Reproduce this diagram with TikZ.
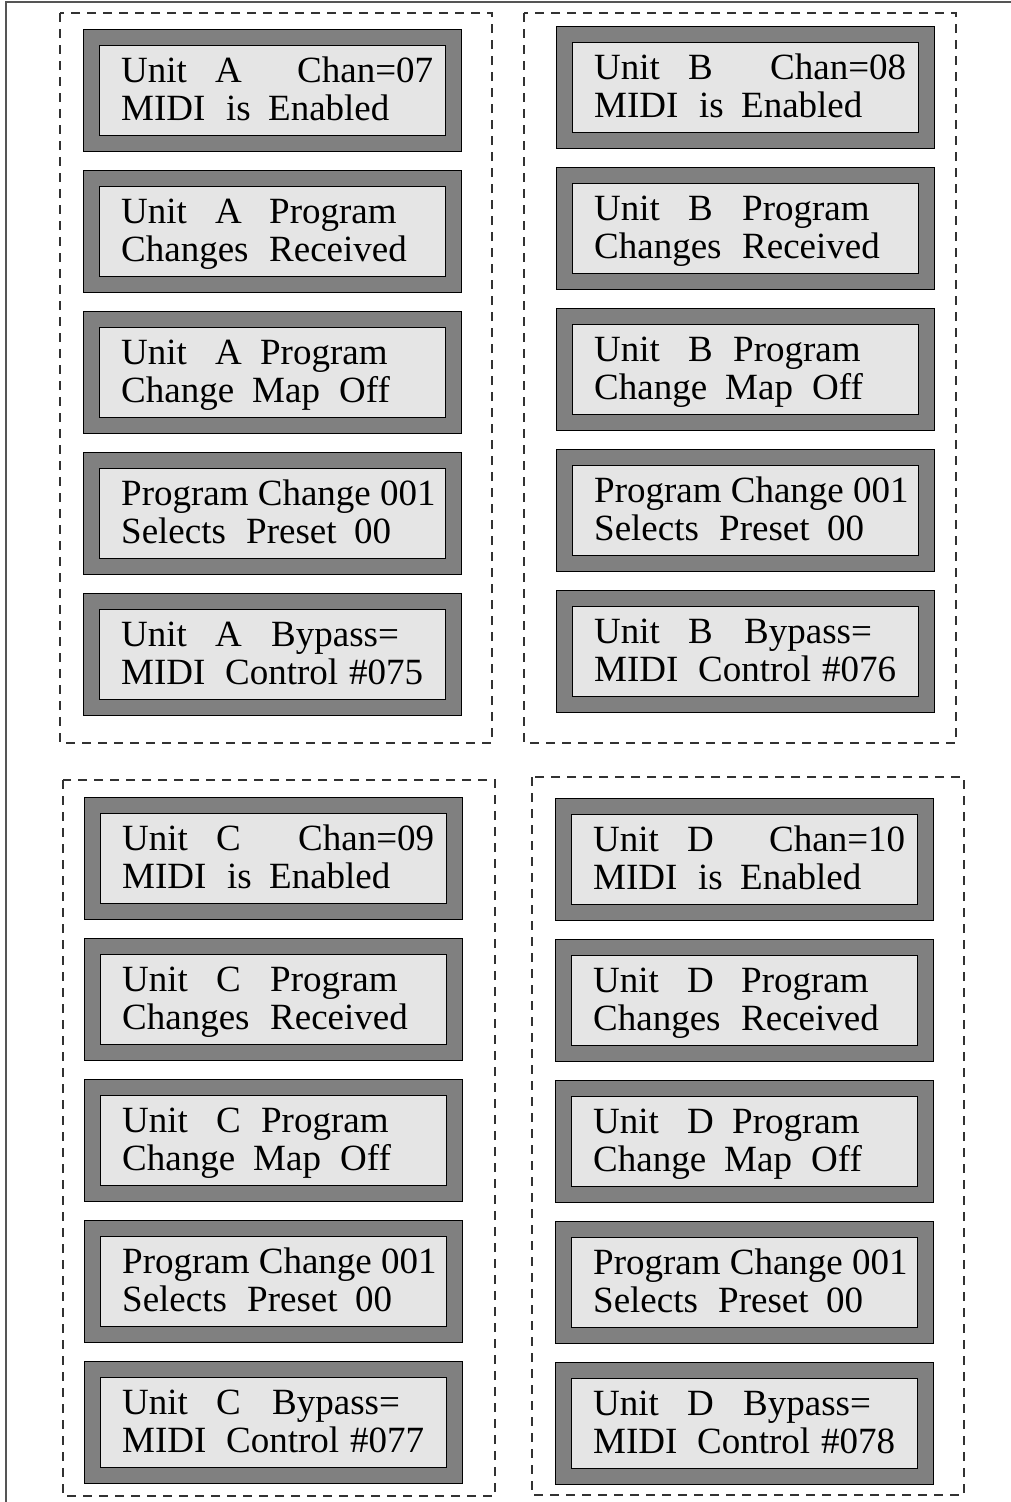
\documentclass[tikz,border=0pt]{standalone}
\usepackage{fontspec}
\setmainfont{Liberation Serif}
\newcommand\cellw[2]{\makebox[#1pt][l]{#2}}
\definecolor{lcdouter}{RGB}{128,128,128}
\definecolor{lcdinner}{RGB}{229,229,229}
\definecolor{framegray}{RGB}{85,85,85}
\definecolor{dashgray}{RGB}{50,50,50}
\begin{document}
\begin{tikzpicture}[x=1pt,y=-1pt,
  outerbox/.style={draw=black, line width=1.2pt, fill=lcdouter, minimum width=378pt, minimum height=122pt, inner sep=0pt, anchor=north west},
  innerbox/.style={draw=black, line width=1.2pt, fill=lcdinner, minimum width=346pt, minimum height=90pt, inner sep=0pt, anchor=north west},
  lcdtext/.style={inner sep=0pt, anchor=base west, font=\fontsize{37}{38}\selectfont},
  group/.style={draw=dashgray, line width=1.2pt, dash pattern=on 9pt off 7pt}]
\useasboundingbox (0,0) rectangle (1011,1502);
\draw[framegray, line width=2pt] (6,1502) -- (6,2) -- (1011,2);
% dashed groups
\draw[group] (60,13) rectangle (492,743);
\draw[group] (524,13) rectangle (956,743);
\draw[group] (63,780) rectangle (495,1496);
\draw[group] (532,777) rectangle (964,1495);
\foreach \p/\x/\y/\ch/\cc in {A/83/29/07/075, B/556/26/08/076, C/84/797/09/077, D/555/798/10/078}{
  \foreach \r in {1,...,5}{
    \pgfmathsetmacro{\yy}{\y+(\r-1)*141}
    \node[outerbox] (\p\r) at (\x,\yy) {};
    \node[innerbox] (\p\r i) at ([shift={(16,16)}]\p\r.north west) {};
  }
  \node[lcdtext] (\p1a) at ([shift={(38,53)}]\p1.north west) {\cellw{94}{Unit}\cellw{82}{\p}Chan=\ch};
  \node[lcdtext] (\p1b) at ([shift={(38,91)}]\p1.north west) {\cellw{105}{MIDI}\cellw{42}{is}Enabled};
  \node[lcdtext] (\p2a) at ([shift={(38,53)}]\p2.north west) {\cellw{94}{Unit}\cellw{54}{\p}Program};
  \node[lcdtext] (\p2b) at ([shift={(38,91)}]\p2.north west) {\cellw{148}{Changes}Received};
  \node[lcdtext] (\p3a) at ([shift={(38,53)}]\p3.north west) {\cellw{94}{Unit}\cellw{45}{\p}Program};
  \node[lcdtext] (\p3b) at ([shift={(38,91)}]\p3.north west) {\cellw{131}{Change}\cellw{87}{Map}Off};
  \node[lcdtext] (\p4a) at ([shift={(38,53)}]\p4.north west) {Program Change 001};
  \node[lcdtext] (\p4b) at ([shift={(38,91)}]\p4.north west) {\cellw{125}{Selects}\cellw{108}{Preset}00};
  \node[lcdtext] (\p5a) at ([shift={(38,53)}]\p5.north west) {\cellw{94}{Unit}\cellw{56}{\p}Bypass=};
  \node[lcdtext] (\p5b) at ([shift={(38,91)}]\p5.north west) {\cellw{104}{MIDI}\cellw{124}{Control}\#\cc};
}
\end{tikzpicture}
\end{document}
